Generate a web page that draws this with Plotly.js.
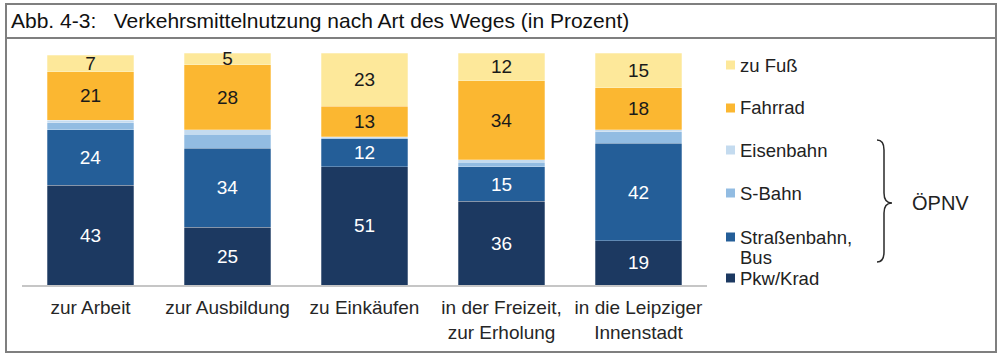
<!DOCTYPE html>
<html>
<head>
<meta charset="utf-8">
<script src="https://cdn.plot.ly/plotly-3.0.1.min.js"></script>
<style>
  html, body { margin: 0; padding: 0; background: #ffffff; }
  #chart { width: 1000px; height: 361px; }
</style>
</head>
<body>
<div id="chart"></div>
<script>
// ---- data ----
const categories = ['zur Arbeit', 'zur Ausbildung', 'zu Einkäufen', 'in der Freizeit,<br>zur Erholung', 'in die Leipziger<br>Innenstadt'];
const pkwKrad = [43, 25, 51, 36, 19];
const strassenbahnBus = [24, 34, 12, 15, 42];
const sBahn = [3, 6, 0.5, 2, 5];
const eisenbahn = [1, 2, 0.5, 1, 1];
const fahrrad = [21, 28, 13, 34, 18];
const zuFuss = [7, 5, 23, 12, 15];

const seriesNames = ['Pkw/Krad', 'Straßenbahn, Bus', 'S-Bahn', 'Eisenbahn', 'Fahrrad', 'zu Fuß'];
const seriesValues = [pkwKrad, strassenbahnBus, sBahn, eisenbahn, fahrrad, zuFuss];
const seriesColors = ['#1c3961', '#245e98', '#92bce2', '#c4dbef', '#fbb731', '#fde89a'];
const showLabels = [true, true, false, false, true, true];
const labelColors = ['#ffffff', '#ffffff', '#000000', '#000000', '#1a1a1a', '#1a1a1a'];

// ---- layout geometry (pixels) ----
const W = 1000, H = 361;
const plotL = 22, plotR = 707, plotT = 53, plotB = 285;
const px = x => (x - plotL) / (plotR - plotL);
const py = y => (plotB - y) / (plotB - plotT);

const FONT = '"Liberation Sans", Arial, sans-serif';

const traces = seriesValues.map((vals, i) => ({
  type: 'bar',
  name: seriesNames[i],
  x: categories,
  y: vals,
  marker: { color: seriesColors[i], line: { width: 0.6, color: 'rgba(255,255,255,0.45)' } },
  text: showLabels[i] ? vals.map(v => String(v)) : undefined,
  textposition: showLabels[i] ? 'inside' : 'none',
  insidetextanchor: 'middle',
  textangle: 0,
  textfont: { family: FONT, size: 19, color: labelColors[i] },
  hoverinfo: 'skip',
  cliponaxis: false
}));

// legend rows (top to bottom)
const legendRows = [
  { label: 'zu Fuß', color: '#fde89a', y: 65 },
  { label: 'Fahrrad', color: '#fbb731', y: 108 },
  { label: 'Eisenbahn', color: '#c4dbef', y: 150 },
  { label: 'S-Bahn', color: '#92bce2', y: 193 },
  { label: 'Straßenbahn,', color: '#245e98', y: 237, extra: { label: 'Bus', y: 257 } },
  { label: 'Pkw/Krad', color: '#1c3961', y: 278 }
];

const shapes = [];
const annotations = [];

// outer frame
shapes.push({ type: 'rect', xref: 'paper', yref: 'paper', x0: px(6), x1: px(996), y0: py(352), y1: py(4),
  line: { color: '#7f7f7f', width: 2 }, fillcolor: 'rgba(0,0,0,0)', layer: 'below' });
// title separator
shapes.push({ type: 'line', xref: 'paper', yref: 'paper', x0: px(6), x1: px(996), y0: py(38), y1: py(38),
  line: { color: '#7f7f7f', width: 2 } });

const legFont = { family: FONT, size: 18.5, color: '#222222' };
legendRows.forEach(r => {
  shapes.push({ type: 'rect', xref: 'paper', yref: 'paper',
    x0: px(726), x1: px(735), y0: py(r.y + 4.5), y1: py(r.y - 4.5),
    line: { width: 0 }, fillcolor: r.color });
  annotations.push({ xref: 'paper', yref: 'paper', x: px(738), y: py(r.y),
    xanchor: 'left', yanchor: 'middle', align: 'left', showarrow: false,
    text: r.label, font: legFont });
  if (r.extra) {
    annotations.push({ xref: 'paper', yref: 'paper', x: px(738), y: py(r.extra.y),
      xanchor: 'left', yanchor: 'middle', align: 'left', showarrow: false,
      text: r.extra.label, font: legFont });
  }
});

// brace for ÖPNV
const bp = [
  ['M', 877, 140], ['Q', 884, 140, 884, 150], ['L', 884, 193], ['Q', 884, 203, 892, 203],
  ['Q', 884, 203, 884, 213], ['L', 884, 252], ['Q', 884, 262, 877, 262]
];
const path = bp.map(seg => {
  const cmd = seg[0];
  const pts = [];
  for (let k = 1; k < seg.length; k += 2) pts.push(px(seg[k]) + ',' + py(seg[k + 1]));
  return cmd + pts.join(' ');
}).join(' ');
shapes.push({ type: 'path', xref: 'paper', yref: 'paper', path: path,
  line: { color: '#2a2a2a', width: 1.5 } });
annotations.push({ xref: 'paper', yref: 'paper', x: px(910), y: py(203), xanchor: 'left', yanchor: 'middle',
  showarrow: false, text: 'ÖPNV', font: { family: FONT, size: 20, color: '#222222' } });

const layout = {
  width: W, height: H,
  margin: { l: plotL, r: W - plotR, t: plotT, b: H - plotB, pad: 0 },
  paper_bgcolor: '#ffffff', plot_bgcolor: '#ffffff',
  barmode: 'stack',
  bargap: 0.372,
  showlegend: false,
  uniformtext: { mode: 'show', minsize: 19 },
  title: {
    text: 'Abb. 4-3:\u00a0\u00a0\u00a0Verkehrsmittelnutzung nach Art des Weges (in Prozent)',
    x: 11 / W, xref: 'container', xanchor: 'left',
    y: 1 - 21 / H, yref: 'container', yanchor: 'middle',
    font: { family: FONT, size: 21, color: '#111111' }
  },
  xaxis: {
    showline: true, linecolor: '#c6c6c6', linewidth: 1.5,
    ticks: '', showgrid: false, zeroline: false,
    tickfont: { family: FONT, size: 19, color: '#262626' },
    ticklabelstandoff: 5,
    fixedrange: true
  },
  yaxis: { range: [0, 100], visible: false, fixedrange: true },
  shapes: shapes,
  annotations: annotations,
  hovermode: false
};

Plotly.newPlot('chart', traces, layout, { displayModeBar: false, staticPlot: true });
</script>
</body>
</html>
